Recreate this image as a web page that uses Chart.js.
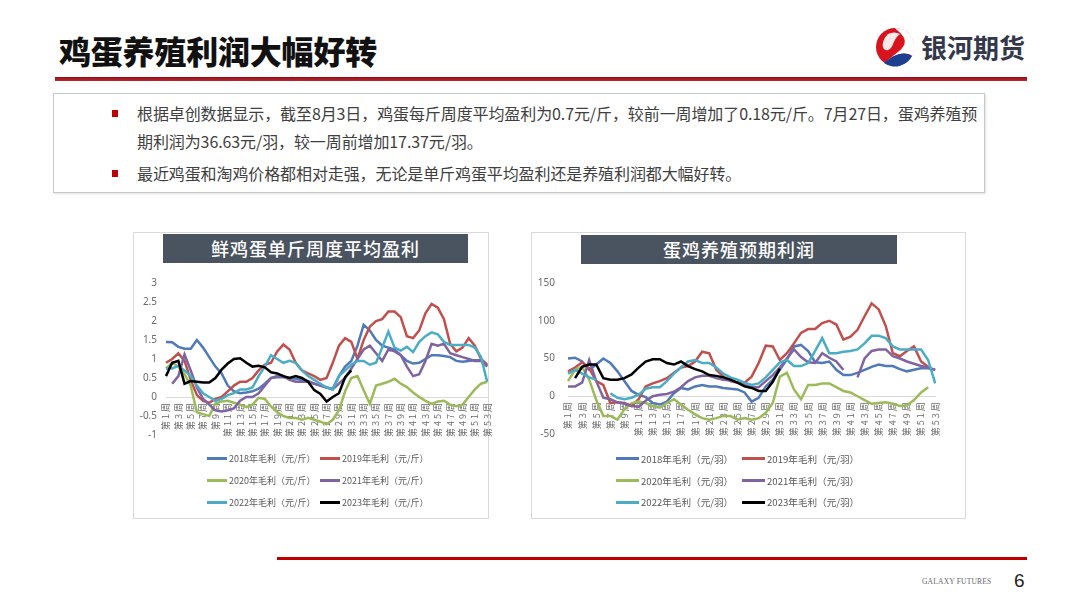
<!DOCTYPE html>
<html>
<head>
<meta charset="utf-8">
<script src="https://cdn.jsdelivr.net/npm/chart.js@4.4.0/dist/chart.umd.min.js"></script>
<style>
  body { margin: 0; background: #fff; }
  #page { position: relative; width: 1080px; height: 608px; overflow: hidden; font-family: "Noto Sans CJK SC", "Noto Sans", sans-serif; }
  .abs { position: absolute; }
  #title { left: 59px; top: 27px; font-size: 32px; font-weight: 900; color: #111; letter-spacing: -0.2px; white-space: nowrap; }
  #brand { left: 921px; top: 28px; font-size: 26px; font-weight: 700; color: #33384a; white-space: nowrap; }
  #topline { left: 55px; top: 77px; width: 972px; height: 4px; background: linear-gradient(#8e0f17, #c4262e); }
  #box { left: 53px; top: 93px; width: 930px; height: 98px; border: 1px solid #c8c8c8; box-shadow: 1px 1px 2px rgba(0,0,0,0.12); }
  .bullet { width: 6px; height: 7px; background: #c00000; }
  .txt { font-size: 16px; color: #404040; white-space: nowrap; line-height: 20px; letter-spacing: -0.1px; }
  .panel { border: 1px solid #d9d9d9; background: #fff; }
  .bar { background: #4a5360; color: #fff; font-size: 18px; text-align: center; font-weight: 500; letter-spacing: 1px; }
  .legend { display: grid; color: #595959; white-space: nowrap; }
  .legend .item { display: flex; align-items: center; }
  .legend .sw { display: inline-block; height: 3px; margin-right: 2px; }
  #footline { left: 277px; top: 557px; width: 750px; height: 3px; background: #c00000; }
  #foottxt { left: 922px; top: 577px; font-family: "Liberation Serif", serif; font-size: 7.5px; color: #666; letter-spacing: 0.2px; }
  #pageno { left: 1014px; top: 570px; font-family: "Liberation Sans", sans-serif; font-size: 19px; color: #222; }
</style>
</head>
<body>
<div id="page">
  <div id="title" class="abs">鸡蛋养殖利润大幅好转</div>
  <svg class="abs" style="left:874px;top:26px" width="42" height="42" viewBox="0 0 42 42">
    <circle cx="21" cy="21" r="19" fill="#d7141d"/>
    <path d="M21 2 A19 19 0 0 1 38 30 C30 24 20 30 12 36 C22 26 34 22 30 12 C27 6 22 4 21 2 Z" fill="#ffffff"/>
    <path d="M38 30 A19 19 0 0 1 10 37 C18 30 28 24 38 30 Z" fill="#1d3f8f"/>
    <path d="M14 8 C6 16 8 26 14 24 C20 22 18 14 26 8 C22 6 18 6 14 8 Z" fill="#ffffff" opacity="0.9"/>
  </svg>
  <div id="brand" class="abs">银河期货</div>
  <div id="topline" class="abs"></div>

  <div id="box" class="abs"></div>
  <div class="abs bullet" style="left:112px;top:110px"></div>
  <div class="abs txt" style="left:137px;top:103px">根据卓创数据显示，截至8月3日，鸡蛋每斤周度平均盈利为0.7元/斤，较前一周增加了0.18元/斤。7月27日，蛋鸡养殖预</div>
  <div class="abs txt" style="left:137px;top:131px">期利润为36.63元/羽，较一周前增加17.37元/羽。</div>
  <div class="abs bullet" style="left:112px;top:170px"></div>
  <div class="abs txt" style="left:137px;top:163px">最近鸡蛋和淘鸡价格都相对走强，无论是单斤鸡蛋平均盈利还是养殖利润都大幅好转。</div>

  <div class="abs panel" style="left:133px;top:232px;width:354px;height:285px"></div>
  <div class="abs bar" style="left:163px;top:234px;width:305px;height:29px;line-height:29px">鲜鸡蛋单斤周度平均盈利</div>
  <canvas id="c1" class="abs" style="left:136px;top:268px" width="366" height="182"></canvas>
  <div id="lg1" class="abs legend" style="left:207px;top:447px;grid-template-columns:113px 120px;grid-auto-rows:22px;font-size:9px"></div>

  <div class="abs panel" style="left:531px;top:232px;width:433px;height:285px"></div>
  <div class="abs bar" style="left:581px;top:235px;width:316px;height:29px;line-height:29px">蛋鸡养殖预期利润</div>
  <canvas id="c2" class="abs" style="left:536px;top:264px" width="414" height="189"></canvas>
  <div id="lg2" class="abs legend" style="left:616px;top:448px;grid-template-columns:126px 130px;grid-auto-rows:21.7px;font-size:9.6px"></div>

  <div id="footline" class="abs"></div>
  <div id="foottxt" class="abs">GALAXY FUTURES</div>
  <div id="pageno" class="abs">6</div>
</div>

<script>
const weeks = ["第1周","第2周","第3周","第4周","第5周","第6周","第7周","第8周","第9周","第10周",
  "第11周","第12周","第13周","第14周","第15周","第16周","第17周","第18周","第19周","第20周",
  "第21周","第22周","第23周","第24周","第25周","第26周","第27周","第28周","第29周","第30周",
  "第31周","第32周","第33周","第34周","第35周","第36周","第37周","第38周","第39周","第40周",
  "第41周","第42周","第43周","第44周","第45周","第46周","第47周","第48周","第49周","第50周",
  "第51周","第52周","第53周"];

const years = ["2018", "2019", "2020", "2021", "2022", "2023"];
const colors = ["#5079b8", "#c0504d", "#9bbb59", "#8064a2", "#4bacc6", "#000000"];

// 鲜鸡蛋单斤周度平均盈利（元/斤）
const egg2018 = [1.45,1.44,1.32,1.27,1.27,1.5,1.3,1.05,0.8,0.62,0.3,0.15,0.1,0.12,0.15,0.22,0.35,0.5,0.52,0.52,0.5,0.48,0.45,0.42,0.35,0.3,0.25,0.22,0.55,0.8,0.95,1.35,1.9,1.75,1.5,1.35,1.3,1.25,1.1,0.95,0.88,0.9,1.0,1.1,1.1,1.08,1.05,0.95,0.93,0.95,0.97,0.97,0.8];
const egg2019 = [0.9,1.0,1.15,0.95,0.45,0.05,-0.1,-0.15,-0.05,0.0,0.15,0.3,0.4,0.4,0.5,0.7,0.85,0.9,1.2,1.38,1.25,0.9,0.7,0.62,0.55,0.45,0.5,0.9,1.35,1.55,1.45,1.0,1.5,1.85,2.0,2.05,2.25,2.25,2.1,1.6,1.55,1.75,2.2,2.45,2.35,2.05,1.4,1.2,1.3,1.55,1.35,1.0,0.85];
const egg2020 = [0.75,0.9,0.8,0.6,0.3,-0.4,-0.45,-0.5,-0.17,-0.12,-0.1,-0.15,-0.2,-0.27,-0.2,-0.02,-0.05,-0.25,-0.4,-0.5,-0.55,-0.55,-0.6,-0.55,-0.6,-0.65,-0.72,-0.6,-0.35,0.15,0.5,0.55,0.18,-0.18,0.3,0.35,0.4,0.48,0.35,0.26,0.12,0.0,-0.1,-0.18,-0.12,-0.1,-0.2,-0.24,-0.2,0.0,0.2,0.35,0.4];
const egg2021 = [null,0.35,0.55,1.12,0.7,0.25,-0.05,-0.2,-0.35,-0.38,-0.35,-0.3,-0.1,0.0,0.0,0.1,0.3,0.5,0.55,0.55,0.45,0.4,0.4,0.4,0.35,0.3,0.25,0.2,0.35,0.5,0.75,1.0,1.25,1.35,1.15,0.95,1.25,1.2,1.1,0.8,0.55,0.6,0.95,1.4,1.35,1.4,1.15,1.1,1.05,1.0,0.95,0.95,0.82];
const egg2022 = [0.75,0.75,0.82,0.7,0.55,0.3,0.1,0.0,-0.1,-0.05,0.05,0.1,0.2,0.2,0.25,0.55,0.8,1.1,1.0,0.9,0.95,0.9,0.7,0.55,0.45,0.35,0.25,0.2,0.55,0.7,0.85,0.95,0.95,0.85,0.9,1.3,1.72,1.3,1.22,1.32,1.18,1.45,1.6,1.7,1.65,1.45,1.37,1.37,1.37,1.37,1.3,1.05,0.4];
const egg2023 = [0.55,0.9,0.95,0.35,0.42,0.4,0.38,0.38,0.5,0.72,0.88,1.0,1.02,0.9,0.8,0.82,0.78,0.65,0.62,0.55,0.5,0.55,0.5,0.4,0.18,0.08,-0.12,0.0,0.1,0.52,0.7];

// 蛋鸡养殖预期利润（元/羽）
const farm2018 = [50,51,46,35,42,50,44,33,20,7,2,-1,-9,-11,-7,4,11,9,13,15,13,13,11,10,9,5,-7,-2,13,22,35,49,66,68,60,45,44,46,35,28,28,31,35,39,42,40,40,36,33,35,37,37,35];
const farm2019 = [33,38,45,37,20,15,-9,-8,-9,-13,-4,13,17,20,24,31,38,40,46,59,57,35,26,20,18,18,26,44,67,66,48,57,70,84,89,89,97,100,95,75,79,88,106,123,115,93,57,53,60,66,46,39,null];
const farm2020 = [20,35,39,22,-5,-26,-26,-31,-17,-9,-7,-9,-13,-15,-9,-4,-11,-18,-24,-29,-31,-29,-26,-26,-31,-29,-31,-29,-22,-9,26,31,9,-4,15,15,17,17,12,7,5,0,-5,-10,-9,-8,-10,-13,-12,-5,5,12,null];
const farm2021 = [13,13,18,48,20,-2,-4,-8,-10,-13,-14,-6,0,2,3,6,12,20,25,27,27,24,22,21,18,15,12,12,20,28,38,50,62,52,45,44,57,51,46,35,null,25,50,60,62,62,53,50,46,43,40,38,35];
const farm2022 = [30,35,30,25,22,null,4,-2,-4,-2,2,10,12,12,20,30,38,46,48,44,44,38,30,25,22,18,15,17,25,35,45,48,40,40,44,60,77,57,57,59,60,62,70,80,80,77,66,62,62,62,62,48,17];
const farm2023 = [null,24,39,42,42,24,22,22,24,29,38,46,49,49,44,42,46,40,36,33,28,27,25,22,18,13,11,7,7,19.26,36.63];

const eggSeries = [egg2018, egg2019, egg2020, egg2021, egg2022, egg2023];
const farmSeries = [farm2018, farm2019, farm2020, farm2021, farm2022, farm2023];

// the week labels in the original are drawn wide, so space the letters out a bit
const spacedWeekLabels = {
  id: "spacedWeekLabels",
  beforeDraw(chart) {
    const sc = chart.scales.x;
    if (sc._spaced) return;
    const orig = sc.drawLabels.bind(sc);
    sc.drawLabels = function (area) {
      this.ctx.save();
      this.ctx.letterSpacing = "2px";
      orig(area);
      this.ctx.restore();
    };
    sc._spaced = true;
  },
};

function buildChart(canvasId, series, unit, yMin, yMax, yStep, yWidth, yPad) {
  const datasets = series.map((values, i) => ({
    label: years[i] + "年毛利（" + unit + "）",
    data: values,
    borderColor: colors[i],
    backgroundColor: colors[i],
    borderWidth: 2.5,
    pointRadius: 0,
    tension: 0,
    spanGaps: false,
    order: series.length - i,
  }));

  return new Chart(document.getElementById(canvasId), {
    type: "line",
    data: { labels: weeks, datasets: datasets },
    plugins: [spacedWeekLabels],
    options: {
      responsive: false,
      animation: false,
      layout: { padding: 0 },
      plugins: { legend: { display: false }, tooltip: { enabled: false } },
      scales: {
        x: {
          position: { y: 0 },
          grid: { display: false, drawTicks: false },
          border: { display: true, color: "#d9d9d9", width: 1 },
          ticks: {
            autoSkip: false,
            minRotation: 90,
            maxRotation: 90,
            padding: 4,
            color: "#6b6b6b",
            font: { size: 9, family: "'Noto Sans CJK SC'" },
            callback: function (value, index) {
              return index % 2 === 0 ? this.getLabelForValue(value) : "";
            },
          },
        },
        y: {
          min: yMin,
          max: yMax,
          grid: { display: false, drawTicks: false },
          border: { display: false },
          afterFit: (scale) => { scale.width = yWidth; },
          ticks: {
            stepSize: yStep,
            padding: yPad,
            color: "#6b6b6b",
            font: { size: 10, family: "'Noto Sans', sans-serif" },
            callback: (value) => String(Number(value.toFixed(2))),
          },
        },
      },
    },
  });
}

function buildLegend(el, chart) {
  chart.data.datasets.forEach((ds) => {
    const item = document.createElement("div");
    item.className = "item";
    const sw = document.createElement("span");
    sw.className = "sw";
    sw.style.background = ds.borderColor;
    sw.style.width = el.id === "lg1" ? "20px" : "23px";
    const t = document.createElement("span");
    t.textContent = ds.label;
    item.appendChild(sw);
    item.appendChild(t);
    el.appendChild(item);
  });
}

const eggChart = buildChart("c1", eggSeries, "元/斤", -1, 3, 0.5, 30, 9);
const farmChart = buildChart("c2", farmSeries, "元/羽", -50, 150, 50, 32, 13);
buildLegend(document.getElementById("lg1"), eggChart);
buildLegend(document.getElementById("lg2"), farmChart);
</script>
</body>
</html>
